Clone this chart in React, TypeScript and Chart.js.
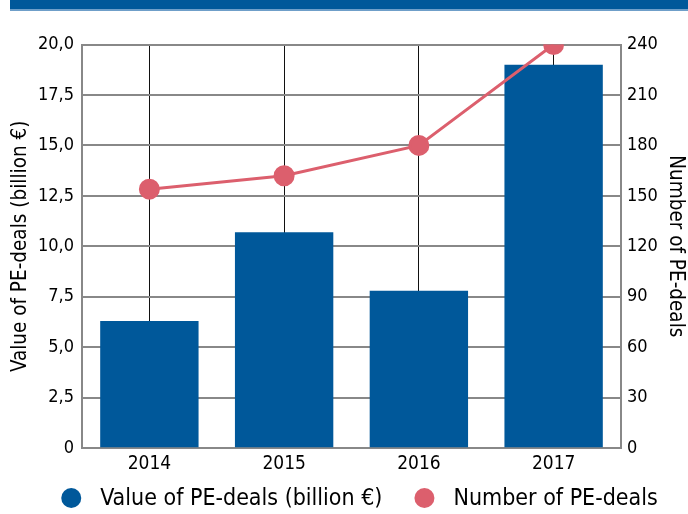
import React, { useEffect, useRef } from "react";
import { Chart, registerables } from "chart.js";

Chart.register(...registerables);

const years = ["2014", "2015", "2016", "2017"];
const dealValues = [6.3, 10.7, 7.8, 19.0];
const dealCounts = [154, 162, 180, 240];
const leftTicks = [0, 2.5, 5, 7.5, 10, 12.5, 15, 17.5, 20];
const rightTicks = [0, 30, 60, 90, 120, 150, 180, 210, 240];
const seriesNames = ["Value of PE-deals (billion €)", "Number of PE-deals"];

const BLUE = "#00589A";
const PINK = "#DC5F6D";
const FONT = "'Liberation Sans Narrow', 'DejaVu Sans Condensed', 'Roboto', sans-serif";

const bottomLegend = {
  id: "bottomLegend",
  afterDraw(chart: any) {
    const ctx = chart.ctx;
    const ds = chart.data.datasets;
    const fontSize = 23;
    const r = 10;
    const gap = 19;
    const itemGap = 32;
    ctx.save();
    ctx.font = `${fontSize}px ${FONT}`;
    ctx.textBaseline = "middle";
    ctx.fillStyle = "#000";
    const widths = ds.map((d: any) => ctx.measureText(d.label).width);
    const total =
      widths.reduce((a: number, b: number) => a + b, 0) + ds.length * (2 * r + gap) + itemGap * (ds.length - 1);
    const cx = (chart.chartArea.left + chart.chartArea.right) / 2 + 8;
    let x = cx - total / 2;
    const y = chart.height - 16;
    ds.forEach((d: any, i: number) => {
      ctx.beginPath();
      ctx.fillStyle = d.type === "line" ? d.borderColor : d.backgroundColor;
      ctx.arc(x + r, y, r, 0, Math.PI * 2);
      ctx.fill();
      x += 2 * r + gap;
      ctx.fillStyle = "#000";
      ctx.fillText(d.label, x, y + 1);
      x += widths[i] + itemGap;
    });
    ctx.restore();
  },
};

export default function App() {
  const ref = useRef<HTMLCanvasElement | null>(null);

  useEffect(() => {
    if (!ref.current) return;
    const chart = new Chart(ref.current, {
      type: "bar",
      data: {
        labels: years,
        datasets: [
          {
            type: "bar",
            label: seriesNames[0],
            data: dealValues,
            backgroundColor: BLUE,
            borderWidth: 0,
            yAxisID: "y",
            order: 2,
            categoryPercentage: 1,
            barPercentage: 0.73,
          },
          {
            type: "line",
            label: seriesNames[1],
            data: dealCounts,
            borderColor: PINK,
            backgroundColor: PINK,
            pointBackgroundColor: PINK,
            pointBorderColor: PINK,
            borderWidth: 3,
            pointRadius: 9,
            yAxisID: "y1",
            order: 1,
          },
        ],
      },
      options: {
        animation: false,
        responsive: false,
        maintainAspectRatio: false,
        layout: { padding: { top: 44.5, left: 8, right: 0, bottom: 35 } },
        plugins: {
          tooltip: { enabled: false },
          legend: { display: false },
        },
        scales: {
          x: {
            grid: {
              offset: false,
              color: "#111",
              lineWidth: 1,
              drawTicks: false,
            },
            border: { display: true, color: "#888", width: 2 },
            ticks: {
              color: "#000",
              padding: 4,
              font: { family: FONT, size: 19 },
            },
          },
          y: {
            position: "left",
            min: 0,
            max: 20,
            afterBuildTicks: (s: any) => {
              s.ticks = leftTicks.map((v) => ({ value: v }));
            },
            afterFit: (s: any) => {
              s.width = 74;
            },
            grid: { color: "#888", lineWidth: 2, drawTicks: false },
            border: { display: true, color: "#888", width: 2 },
            ticks: {
              color: "#000",
              padding: 8,
              font: { family: FONT, size: 18 },
              callback: (v: any) => (v === 0 ? "0" : Number(v).toFixed(1).replace(".", ",")),
            },
            title: {
              display: true,
              text: seriesNames[0],
              color: "#000",
              padding: { top: 0, bottom: 0 },
              font: { family: FONT, size: 20.5 },
            },
          },
          y1: {
            position: "right",
            min: 0,
            max: 240,
            afterBuildTicks: (s: any) => {
              s.ticks = rightTicks.map((v) => ({ value: v }));
            },
            afterFit: (s: any) => {
              s.width = 67;
            },
            grid: { drawOnChartArea: false, drawTicks: false },
            border: { display: true, color: "#888", width: 2 },
            ticks: {
              color: "#000",
              padding: 6,
              font: { family: FONT, size: 18 },
            },
            title: {
              display: true,
              text: seriesNames[1],
              color: "#000",
              padding: { top: 0, bottom: 0 },
              font: { family: FONT, size: 20.5 },
            },
          },
        },
      },
      plugins: [bottomLegend],
    });
    return () => chart.destroy();
  }, []);

  return (
    <div style={{ position: "fixed", left: 0, top: 0, width: 688, height: 514, background: "#fff" }}>
      <div style={{ position: "absolute", left: 10, top: 0, width: 678, height: 9, background: BLUE }} />
      <div style={{ position: "absolute", left: 10, top: 9, width: 678, height: 2, background: "#6f9fc9" }} />
      <canvas ref={ref} width={688} height={514} style={{ position: "absolute", left: 0, top: 0 }} />
    </div>
  );
}
